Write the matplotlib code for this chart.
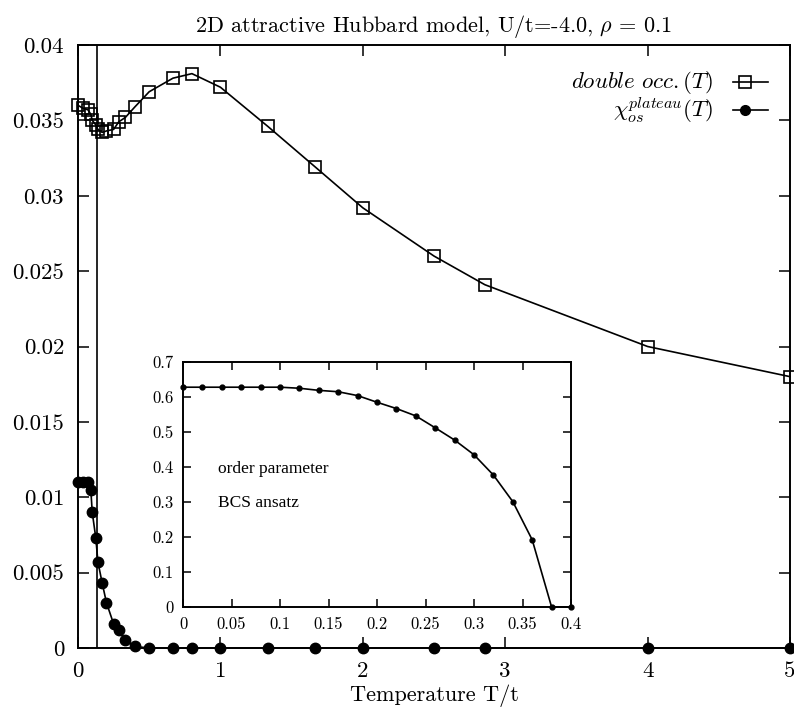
import matplotlib
matplotlib.use("Agg")
import matplotlib.pyplot as plt
from matplotlib.lines import Line2D

plt.rcParams['mathtext.fontset'] = 'cm'
plt.rcParams['font.family'] = ['cmr10', 'DejaVu Serif']
plt.rcParams['axes.unicode_minus'] = False

# ---------------- data ----------------
T = [0.0, 0.035, 0.07, 0.09, 0.1, 0.125, 0.14, 0.17, 0.2, 0.25, 0.286, 0.333,
     0.4, 0.5, 0.667, 0.8, 1.0, 1.333, 1.667, 2.0, 2.5, 2.857, 4.0, 5.0]
double_occ = [0.0360, 0.0358, 0.0357, 0.0354, 0.0350, 0.0347, 0.0344, 0.0342,
              0.0343, 0.0344, 0.0349, 0.0352, 0.0359, 0.0369, 0.0378, 0.0381,
              0.0372, 0.0346, 0.0319, 0.0292, 0.0260, 0.0241, 0.0200, 0.0180]
chi_plateau = [0.0110, 0.0110, 0.0110, 0.0105, 0.0090, 0.0073, 0.0057, 0.0043,
               0.0030, 0.0016, 0.0012, 0.0005, 0.0001, 0.0, 0.0, 0.0,
               0.0, 0.0, 0.0, 0.0, 0.0, 0.0, 0.0, 0.0]
Tc = 0.133

T_bcs = [0.0, 0.02, 0.04, 0.06, 0.08, 0.10, 0.12, 0.14, 0.16, 0.18, 0.20,
         0.22, 0.24, 0.26, 0.28, 0.30, 0.32, 0.34, 0.36, 0.38, 0.40]
order_param = [0.628, 0.628, 0.628, 0.628, 0.628, 0.628, 0.625, 0.619, 0.615,
               0.604, 0.585, 0.567, 0.546, 0.512, 0.477, 0.435, 0.377, 0.301,
               0.192, 0.0, 0.0]

main_xticks = [0, 1, 2, 3, 4, 5]
main_xticklabels = ['0', '1', '2', '3', '4', '5']
main_yticks = [0, 0.005, 0.01, 0.015, 0.02, 0.025, 0.03, 0.035, 0.04]
main_yticklabels = ['0', '0.005', '0.01', '0.015', '0.02', '0.025', '0.03', '0.035', '0.04']
inset_xticks = [0, 0.05, 0.1, 0.15, 0.2, 0.25, 0.3, 0.35, 0.4]
inset_xticklabels = ['0', '0.05', '0.1', '0.15', '0.2', '0.25', '0.3', '0.35', '0.4']
inset_yticks = [0, 0.1, 0.2, 0.3, 0.4, 0.5, 0.6, 0.7]
inset_yticklabels = ['0', '0.1', '0.2', '0.3', '0.4', '0.5', '0.6', '0.7']

title = r'2D attractive Hubbard model, U/t=-4.0, $\rho$ = 0.1'
xlabel = 'Temperature T/t'
label_docc = r'$double\ occ.(T)$'
label_chi = r'$\chi_{os}^{plateau}(T)$'

# ---------------- figure ----------------
W, H = 794, 713
fig = plt.figure(figsize=(W / 100, H / 100), dpi=100)
fig.patch.set_facecolor('white')

ax = fig.add_axes([78 / W, 1 - 648 / H, (790 - 78) / W, (648 - 45) / H])
ax.set_xlim(0, 5)
ax.set_ylim(0, 0.04)

ax.plot(T, double_occ, '-', color='black', lw=1.2, marker='s', ms=9,
        mfc='none', mec='black', mew=1.2, clip_on=False, zorder=3)
ax.plot(T, chi_plateau, '-', color='black', lw=1.2, marker='o', ms=7.5,
        mfc='black', mec='black', clip_on=False, zorder=3)
ax.axvline(Tc, color='black', lw=1.2)

ax.set_xticks(main_xticks)
ax.set_xticklabels(main_xticklabels)
ax.set_yticks(main_yticks)
ax.set_yticklabels(main_yticklabels)
ax.tick_params(direction='in', length=8, width=1.1, top=True, right=True,
               labelsize=16.5, pad=10)
for s in ax.spines.values():
    s.set_linewidth(1.4)
ax.set_title(title, fontsize=16, pad=9)
ax.set_xlabel(xlabel, fontsize=16, labelpad=2)

# manual gnuplot-style legend
tr = ax.transAxes
rows = [(0.9386, label_docc, dict(marker='s', ms=8, mfc='none', mec='black', mew=1.2)),
        (0.892, label_chi, dict(marker='o', ms=7, mfc='black', mec='black'))]
for yy, lab, mk in rows:
    ax.text(0.892, yy, lab, transform=tr, ha='right', va='center', fontsize=16.5)
    ax.add_line(Line2D([0.920, 0.969], [yy, yy], transform=tr, color='black',
                       lw=1.2, clip_on=False))
    ax.add_line(Line2D([0.937], [yy], transform=tr, color='black', lw=0,
                       clip_on=False, **mk))

# ---------------- inset ----------------
axi = fig.add_axes([183 / W, 1 - 607 / H, (571 - 183) / W, (607 - 362) / H])
axi.set_xlim(0, 0.4)
axi.set_ylim(0, 0.7)
axi.plot(T_bcs, order_param, '-', color='black', lw=1.2, marker='o', ms=3.5,
         mfc='black', mec='black', clip_on=False, zorder=3)
axi.set_xticks(inset_xticks)
axi.set_xticklabels(inset_xticklabels)
axi.set_yticks(inset_yticks)
axi.set_yticklabels(inset_yticklabels)
axi.tick_params(direction='in', length=6, width=1.1, top=True, right=True,
                labelsize=12, pad=7)
for s in axi.spines.values():
    s.set_linewidth(1.4)
axi.text(0.036, 0.394, 'order parameter', fontsize=12.5,
         family=['Liberation Serif', 'DejaVu Serif'], va='center', ha='left')
axi.text(0.036, 0.296, 'BCS ansatz', fontsize=12.5,
         family=['Liberation Serif', 'DejaVu Serif'], va='center', ha='left')

fig.savefig('out.png', dpi=100, facecolor='white')
